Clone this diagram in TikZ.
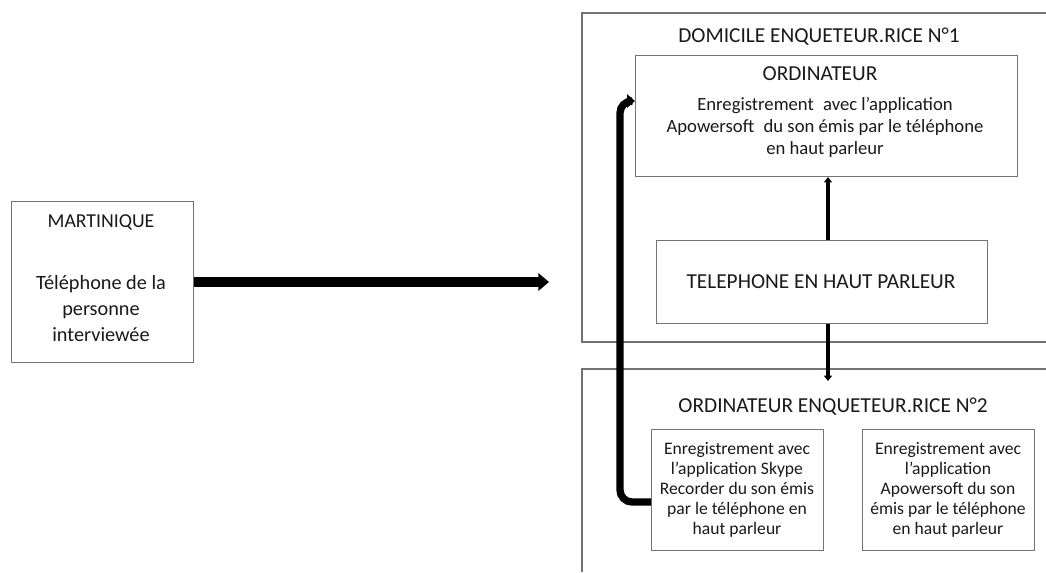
\documentclass[tikz,border=0pt]{standalone}
\usepackage{fontspec}
\setmainfont{Carlito}
\usetikzlibrary{arrows.meta}
\definecolor{boxline}{rgb}{0.45,0.45,0.45}
\definecolor{txt}{rgb}{0.1,0.1,0.1}
\tikzset{
  px/.style={x=0.75pt,y=-0.75pt},
  frame/.style={draw=boxline,line width=0.8pt,inner sep=0pt},
  ttl/.style={text=txt,font=\fontsize{16}{19}\selectfont,inner sep=0pt},
  body/.style={text=txt,font=\fontsize{14}{16.5}\selectfont,align=center,inner sep=0pt},
  small/.style={text=txt,font=\fontsize{13.2}{15}\selectfont,align=center,inner sep=0pt},
  bigarrow/.style={line width=7.5pt,-{Triangle[length=8pt,width=13pt]}},
  thinarrow/.style={line width=2.4pt,-{Triangle[length=4pt,width=6pt]}},
  looparrow/.style={line width=5.5pt,rounded corners=9pt,-{Triangle[length=6pt,width=10pt]}},
}
\begin{document}
\begin{tikzpicture}[px]
\useasboundingbox (0,0) rectangle (1046,572);
% outer frames
\draw[frame] (1046,13) -- (582,13) -- (582,342) -- (1046,342);
\draw[frame] (1046,369) -- (582,369) -- (582,572);
% Martinique box
\node[frame,minimum width=182*0.75pt,minimum height=161*0.75pt,anchor=north west] (mart) at (11,201) {};
\node[ttl,font=\fontsize{14.8}{17}\selectfont] (martT) at (101,222) {MARTINIQUE};
\node[body,font=\fontsize{15.2}{19.5}\selectfont] (martB) at (101,309) {Téléphone de la\\personne\\interviewée};
% domicile
\node[ttl] (domT) at (819,37) {DOMICILE ENQUETEUR.RICE N°1};
\node[frame,minimum width=382*0.75pt,minimum height=121*0.75pt,anchor=north west] (ord) at (635,55) {};
\node[ttl] (ordT) at (820,74) {ORDINATEUR};
\node[body] (ordB) at (825,127) {Enregistrement\enspace avec l’application\\Apowersoft\enspace du son émis par le téléphone\\en haut parleur};
\node[frame,minimum width=331*0.75pt,minimum height=83*0.75pt,anchor=north west] (tel) at (656,240) {};
\node[ttl] (telT) at (821,282) {TELEPHONE EN HAUT PARLEUR};
% ordinateur 2
\node[ttl] (ord2T) at (833,407) {ORDINATEUR ENQUETEUR.RICE N°2};
\node[frame,minimum width=172*0.75pt,minimum height=121*0.75pt,anchor=north west] (skype) at (651,429) {};
\node[small] (skypeT) at (737,490) {Enregistrement avec\\l’application Skype\\Recorder du son émis\\par le téléphone en\\haut parleur};
\node[frame,minimum width=172*0.75pt,minimum height=121*0.75pt,anchor=north west] (apow) at (862,429) {};
\node[small] (apowT) at (948,490) {Enregistrement avec\\l’application\\Apowersoft du son\\émis par le téléphone\\en haut parleur};
% connectors
\coordinate (bigEnd) at (549,282);
\draw[bigarrow] (mart.east |- bigEnd) -- (bigEnd);
\draw[thinarrow] (tel.north -| 828,0) -- (ord.south -| 828,0);
\coordinate (downEnd) at (828,381);
\draw[thinarrow] (tel.south -| downEnd) -- (downEnd);
\draw[looparrow] (skype.west |- 0,502) -- (620,502) -- (620,101) -- (ord.west |- 0,101);
\end{tikzpicture}
\end{document}
